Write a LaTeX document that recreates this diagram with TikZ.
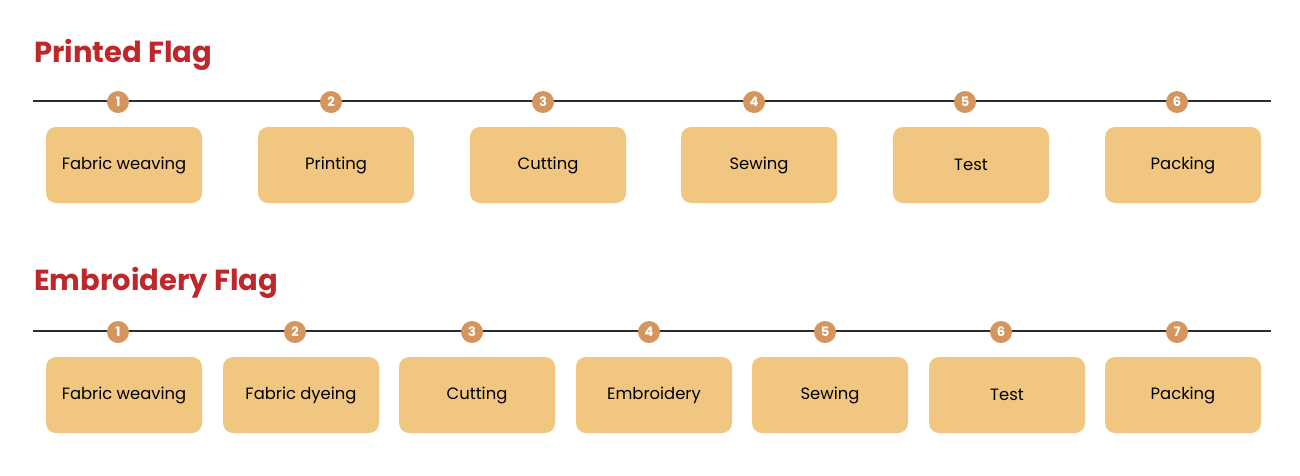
\documentclass[tikz,border=0pt]{standalone}
\usepackage{fontspec}
\setmainfont{Poppins}
\definecolor{flagred}{HTML}{BF272B}
\definecolor{boxtan}{HTML}{F0C680}
\definecolor{dotbrown}{HTML}{D4965C}
\definecolor{railgray}{HTML}{2B2D33}
\tikzset{
  stepbox/.style={fill=boxtan, rounded corners=10pt, minimum width=156pt,
    minimum height=76pt, inner sep=0pt, font=\fontsize{16.4}{18}\selectfont},
  stepdot/.style={circle, fill=dotbrown, minimum size=22pt, inner sep=0pt,
    text=white, font=\bfseries\fontsize{13}{14}\selectfont},
  heading/.style={anchor=base west, inner sep=0pt, text=flagred,
    font=\bfseries\fontsize{29}{32}\selectfont},
  rail/.style={draw=railgray, line width=2pt},
}
\begin{document}
\begin{tikzpicture}[x=1pt, y=-1pt]
  \useasboundingbox (0,0) rectangle (1300,475);
  % printed flag
  \node[heading] (titleA) at (34,62) {Printed Flag};
  \coordinate (railAl) at (33,101);
  \coordinate (railAr) at (1271,101);
  \draw[rail] (railAl) -- (railAr);
  \node[stepdot] (a1) at (118,102) {1};
  \node[stepdot] (a2) at (331,102) {2};
  \node[stepdot] (a3) at (543,102) {3};
  \node[stepdot] (a4) at (754,102) {4};
  \node[stepdot] (a5) at (965,102) {5};
  \node[stepdot] (a6) at (1177,102) {6};
  \node[stepbox] (boxA1) at (124,165) {Fabric weaving};
  \node[stepbox] (boxA2) at (336,165) {Printing};
  \node[stepbox] (boxA3) at (548,165) {Cutting};
  \node[stepbox] (boxA4) at (759,165) {Sewing};
  \node[stepbox] (boxA5) at (971,165) {Test};
  \node[stepbox] (boxA6) at (1183,165) {Packing};
  % embroidery flag
  \node[heading] (titleB) at (34,290) {Embroidery Flag};
  \coordinate (railBl) at (33,331);
  \coordinate (railBr) at (1271,331);
  \draw[rail] (railBl) -- (railBr);
  \node[stepdot] (b1) at (118,332) {1};
  \node[stepdot] (b2) at (295,332) {2};
  \node[stepdot] (b3) at (472,332) {3};
  \node[stepdot] (b4) at (649,332) {4};
  \node[stepdot] (b5) at (825,332) {5};
  \node[stepdot] (b6) at (1001,332) {6};
  \node[stepdot] (b7) at (1177,332) {7};
  \node[stepbox] (boxB1) at (124,395) {Fabric weaving};
  \node[stepbox] (boxB2) at (301,395) {Fabric dyeing};
  \node[stepbox] (boxB3) at (477,395) {Cutting};
  \node[stepbox] (boxB4) at (654,395) {Embroidery};
  \node[stepbox] (boxB5) at (830,395) {Sewing};
  \node[stepbox] (boxB6) at (1007,395) {Test};
  \node[stepbox] (boxB7) at (1183,395) {Packing};
\end{tikzpicture}
\end{document}
